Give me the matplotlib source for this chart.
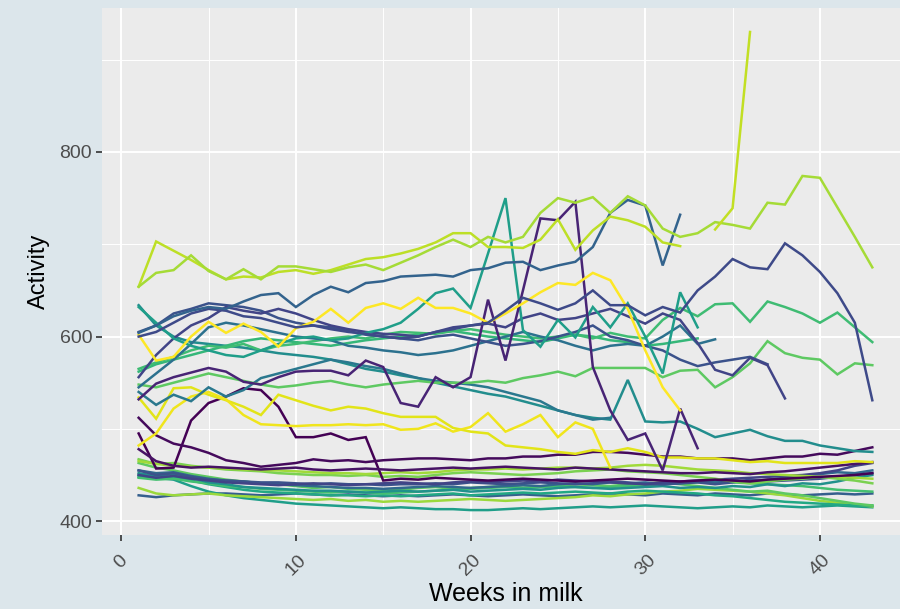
import numpy as np
import matplotlib
matplotlib.use("Agg")
import matplotlib.pyplot as plt

# weekly activity per cow; each list starts at the week given in COWS below
lime_long = [654, 669, 672, 688, 671, 662, 673, 662, 676, 676, 673, 670, 675, 678, 672,
             680, 688, 697, 705, 697, 708, 702, 708, 734, 750, 745, 751, 734, 752, 742,
             717, 708, 712, 724, 721, 717, 745, 743, 774, 772, 740, 708, 675]
lime_short = [654, 703, 693, 683, 672, 662, 665, 664, 670, 672, 668, 672, 678, 684, 686,
              690, 695, 702, 712, 712, 697, 697, 696, 705, 727, 694, 715, 730, 726, 719,
              702, 698]
lime_spike = [716, 739, 930]
blue_high = [604, 612, 622, 628, 632, 630, 638, 645, 647, 632, 645, 654, 648, 658, 660,
             665, 666, 667, 665, 672, 674, 680, 681, 672, 677, 681, 697, 734, 748, 742,
             677, 732]
navy_arc = [600, 605, 615, 625, 630, 628, 622, 620, 615, 610, 612, 608, 605, 603, 600,
            598, 600, 605, 608, 612, 615, 628, 642, 636, 629, 636, 650, 634, 634, 623,
            632, 626, 650, 665, 684, 675, 673, 701, 688, 670, 647, 615, 531]
green_a = [565, 572, 578, 585, 590, 588, 592, 585, 590, 592, 595, 598, 600, 598, 602,
           605, 604, 603, 606, 608, 605, 602, 600, 598, 600, 602, 598, 604, 600, 598,
           618, 631, 622, 635, 636, 616, 638, 632, 625, 615, 626, 610, 594]
green_b = [548, 545, 550, 555, 560, 556, 552, 548, 545, 547, 550, 552, 548, 545, 548,
           550, 552, 550, 550, 550, 552, 550, 555, 558, 562, 557, 566, 566, 566, 566,
           556, 563, 564, 545, 556, 571, 595, 582, 577, 575, 559, 571, 569]
yellow_a = [602, 574, 578, 600, 616, 604, 614, 605, 589, 609, 616, 630, 615, 631, 636,
            630, 642, 631, 631, 625, 615, 625, 636, 648, 658, 656, 669, 661, 630, 585,
            545, 520]
yellow_b = [534, 511, 544, 545, 537, 531, 524, 515, 537, 531, 525, 520, 524, 522, 517,
            513, 513, 513, 501, 497, 495, 482, 480, 478, 475, 473, 477, 475, 479, 475,
            469, 469, 468, 468, 466, 464, 465, 463, 463, 463, 463, 465, 464]
yellow_c = [482, 495, 522, 535, 540, 532, 515, 505, 504, 503, 504, 504, 505, 504, 505,
            499, 500, 506, 497, 502, 517, 497, 505, 515, 491, 507, 500, 458]
teal_spike = [632, 615, 598, 590, 585, 580, 578, 585, 592, 598, 600, 596, 598, 604, 608,
              615, 630, 647, 652, 631, 690, 750, 607, 589, 618, 599, 632, 610, 636, 600,
              560, 648, 610]
teal_fall = [634, 612, 600, 594, 592, 590, 588, 585, 582, 580, 578, 575, 570, 565, 562,
             558, 555, 550, 546, 542, 538, 535, 530, 525, 520, 515, 512, 510, 553, 508,
             507, 508, 500, 491, 495, 499, 492, 487, 487, 482, 479, 476, 475]
purple_spike = [532, 549, 556, 561, 566, 562, 551, 548, 556, 562, 563, 563, 558, 574, 567,
                528, 524, 556, 545, 556, 640, 574, 650, 728, 726, 746, 567, 520, 488, 495,
                455, 522, 479]
purple_flat = [512, 493, 484, 480, 474, 466, 463, 459, 461, 463, 467, 465, 466, 464, 466,
               467, 468, 468, 467, 466, 468, 468, 470, 470, 472, 472, 475, 475, 474, 472,
               470, 470, 468, 468, 468, 466, 468, 470, 470, 473, 472, 476, 480]
purple_low = [478, 465, 460, 458, 459, 458, 457, 456, 457, 458, 456, 455, 456, 457, 456,
              455, 456, 457, 458, 457, 458, 459, 458, 457, 456, 458, 457, 456, 455, 454,
              453, 452, 452, 453, 452, 451, 453, 454, 456, 458, 460, 462, 464]
purple_hump = [495, 457, 458, 509, 528, 535, 544, 542, 524, 491, 491, 495, 488, 491, 444,
               446, 445, 447, 446, 445, 444, 445, 446, 445, 444, 443, 444, 445, 446, 445,
               444, 443, 444, 445, 444, 443, 445, 446, 447, 448, 449, 450, 452]
navy_b = [556, 580, 598, 612, 620, 632, 628, 625, 630, 625, 618, 612, 608, 605, 603,
          602, 600, 605, 610, 612, 614, 610, 620, 625, 618, 620, 625, 630, 622, 614,
          625, 618, 593, 564, 558, 577, 569, 533]
navy_c = [605, 612, 625, 630, 636, 634, 632, 628, 620, 615, 612, 610, 606, 602, 600,
          598, 596, 600, 602, 598, 594, 590, 592, 595, 600, 605, 612, 600, 596, 590,
          585, 575, 568, 572, 575, 578, 570]
blue_mid = [545, 560, 575, 592, 610, 615, 612, 608, 604, 600, 598, 596, 590, 588, 585,
            583, 580, 582, 585, 590, 595, 600, 605, 600, 596, 590, 585, 590, 592, 590,
            600, 612, 592, 597]
teal_mid = [540, 526, 537, 530, 545, 535, 542, 555, 560, 565, 570, 575, 572, 568, 565,
            560, 555, 552, 550, 548, 545, 540, 535, 530, 520, 515, 510, 512]
green_mid = [562, 570, 575, 580, 585, 590, 595, 598, 596, 594, 592, 590, 593, 596, 598,
             600, 602, 604, 606, 603, 600, 598, 596, 594, 598, 602, 600, 596, 594, 590,
             592, 595, 598]
low_1 = [455, 450, 452, 448, 445, 444, 443, 442, 442, 441, 440, 441, 440, 440, 439,
         440, 440, 441, 440, 442, 441, 440, 441, 442, 441, 440, 441, 443, 442, 440,
         440, 441, 442, 440, 442, 445, 443, 444, 445, 446, 448, 450, 452]
low_2 = [452, 449, 451, 447, 442, 440, 437, 436, 435, 434, 433, 433, 432, 431, 432,
         433, 432, 433, 434, 432, 433, 434, 435, 434, 436, 437, 436, 435, 436, 437,
         438, 436, 437, 436, 438, 437, 440, 438, 441, 440, 443, 447, 450]
low_3 = [467, 462, 463, 460, 458, 456, 455, 454, 452, 451, 450, 450, 449, 450, 448,
         449, 448, 450, 452, 453, 452, 451, 450, 451, 452, 454, 455, 456, 454, 453,
         452, 450, 448, 446, 443, 441, 443, 445, 446, 448, 446, 444, 441]
low_4 = [463, 458, 455, 451, 448, 445, 443, 441, 440, 438, 436, 437, 435, 434, 433,
         434, 436, 437, 435, 436, 437, 438, 436, 437, 438, 440, 439, 438, 440, 441,
         442, 440, 438, 436, 434, 432, 433, 430, 428, 425, 422, 419, 417]
low_5 = [455, 452, 453, 449, 446, 444, 443, 441, 440, 439, 438, 437, 436, 436, 435,
         436, 437, 438, 437, 436, 437, 438, 439, 438, 440, 441, 440, 442, 441, 442,
         440, 441, 443, 442, 444, 443, 445, 447, 449, 451, 453, 452, 455]
low_6 = [448, 446, 448, 444, 440, 437, 434, 432, 431, 430, 429, 428, 428, 427, 428,
         427, 428, 429, 430, 428, 429, 430, 431, 430, 431, 432, 431, 430, 432, 433,
         432, 431, 430, 428, 427, 425, 423, 421, 420, 419, 418, 417, 417]
low_7 = [436, 430, 428, 429, 430, 428, 427, 426, 425, 424, 423, 424, 422, 423, 421,
         422, 421, 422, 423, 424, 423, 422, 423, 424, 425, 426, 428, 427, 429, 430,
         432, 433, 435, 434, 433, 432, 430, 428, 425, 422, 420, 418, 416]
low_8 = [428, 426, 428, 429, 430, 430, 429, 428, 429, 430, 429, 428, 429, 428, 427,
         428, 427, 428, 429, 428, 427, 428, 429, 428, 427, 428, 429, 430, 429, 428,
         430, 429, 428, 430, 429, 428, 430, 429, 428, 429, 430, 429, 430]
low_9 = [450, 447, 445, 438, 432, 428, 425, 423, 421, 419, 418, 417, 416, 415, 414,
         415, 414, 413, 413, 412, 412, 413, 414, 413, 414, 415, 416, 415, 416, 417,
         416, 415, 414, 415, 416, 415, 417, 416, 415, 416, 417, 416, 415]
low_10 = [450, 447, 449, 446, 444, 442, 441, 440, 439, 440, 441, 440, 439, 440, 441,
          442, 441, 440, 442, 443, 442, 443, 444, 443, 445, 444, 443, 442, 441, 440,
          442, 443, 444, 445, 446, 447, 448, 449, 450, 452, 455, 460, 463]
low_11 = [447, 445, 446, 443, 441, 438, 437, 435, 434, 433, 432, 431, 432, 431, 430,
          431, 432, 433, 434, 435, 436, 437, 436, 437, 438, 437, 436, 437, 438, 439,
          440, 441, 442, 443, 442, 441, 440, 439, 438, 436, 434, 433, 432]
low_12 = [465, 462, 460, 459, 458, 457, 456, 455, 455, 454, 453, 452, 452, 451, 452,
          453, 452, 453, 455, 456, 456, 457, 456, 457, 458, 458, 457, 458, 460, 461,
          460, 458, 456, 455, 454, 452, 451, 450, 449, 448, 448, 447, 446]

# (first week, series, colour) in drawing order
COWS = [
    (1, low_8, "#355F8D"), (1, low_9, "#1F9E89"), (1, low_7, "#9BD93C"),
    (1, low_6, "#22A884"), (1, low_4, "#5EC962"), (1, low_11, "#44BF70"),
    (1, low_2, "#21918C"), (1, low_5, "#31688E"), (1, low_1, "#3B528B"),
    (1, low_10, "#414487"), (1, low_3, "#7AD151"), (1, low_12, "#A0DA39"),
    (1, purple_hump, "#440154"), (1, purple_low, "#471365"),
    (1, purple_flat, "#450A5C"), (1, yellow_b, "#E2E418"),
    (1, yellow_c, "#F0E51C"), (1, teal_fall, "#228D8D"),
    (1, teal_mid, "#2A788E"), (1, green_b, "#5EC962"), (1, green_mid, "#35B779"),
    (1, green_a, "#3FBC73"), (1, blue_mid, "#2C718E"), (1, navy_c, "#3B528B"),
    (1, navy_b, "#414487"), (1, teal_spike, "#1F9E89"),
    (1, purple_spike, "#482475"), (1, yellow_a, "#FDE725"),
    (1, navy_arc, "#3E4A89"), (1, blue_high, "#33638D"),
    (1, lime_short, "#BDDF26"), (1, lime_long, "#A5DB36"),
    (34, lime_spike, "#C2DF23"),
]

BG = "#DCE6EB"
PANEL = "#EBEBEB"
plt.rcParams["font.family"] = ["Liberation Sans", "DejaVu Sans"]

fig = plt.figure(figsize=(9, 6.09), dpi=100, facecolor=BG)
ax = fig.add_axes([0.1133, 0.1215, 0.8967, 0.8654], facecolor=PANEL)

for start, vals, col in COWS:
    weeks = np.arange(start, start + len(vals))
    ax.plot(weeks, vals, color=col, lw=1.8, solid_joinstyle="miter", zorder=3)

ax.set_xlim(-1.1, 45.1)
ax.set_ylim(385, 956)
ax.set_xticks([0, 10, 20, 30, 40])
ax.set_yticks([400, 600, 800])
ax.set_xticks([5, 15, 25, 35, 45], minor=True)
ax.set_yticks([500, 700, 900], minor=True)
ax.grid(True, which="major", color="white", lw=1.4, zorder=1)
ax.grid(True, which="minor", color="white", lw=0.7, zorder=1)
ax.set_axisbelow(True)
for s in ax.spines.values():
    s.set_visible(False)

ax.tick_params(which="major", length=4, width=1.2, color="#333333",
               labelcolor="#4D4D4D", labelsize=14, pad=3)
ax.tick_params(axis="x", which="major", pad=8)
ax.tick_params(which="minor", length=0)
for lab in ax.get_xticklabels():
    lab.set_rotation(45)
    lab.set_ha("center")
    lab.set_va("top")

ax.set_ylabel("Activity", fontsize=17, color="black", labelpad=7)
ax.set_xlabel("Weeks in milk", fontsize=18, color="black", labelpad=2)

fig.savefig("out.png", dpi=100, facecolor=BG)
